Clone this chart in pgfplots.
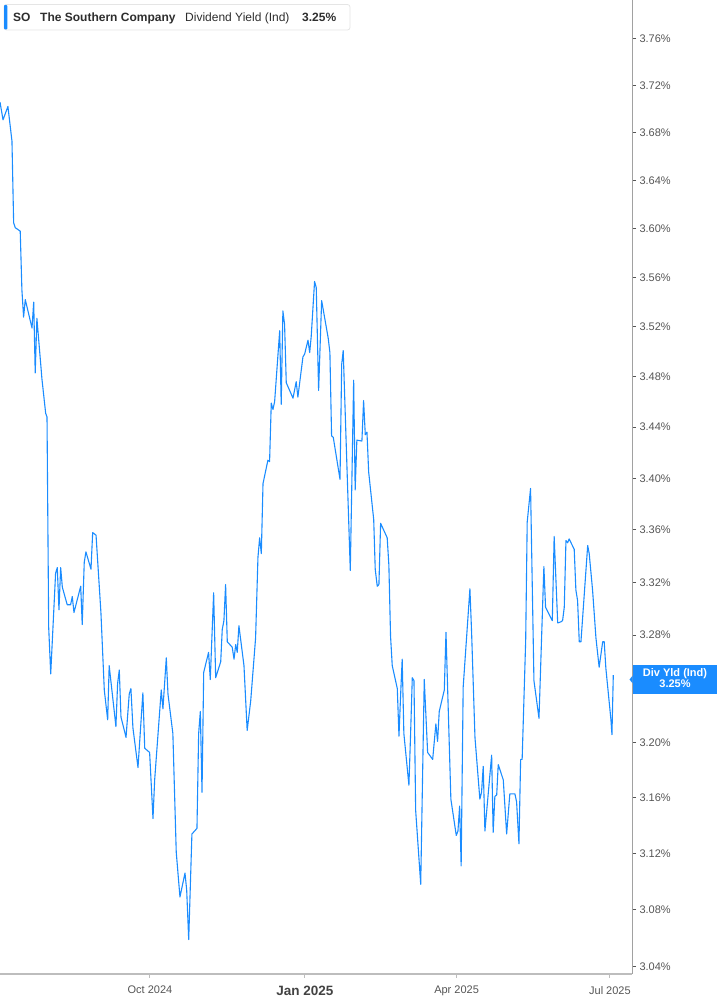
\documentclass[border=0pt]{standalone}
\usepackage{pgfplots}
\pgfplotsset{compat=1.18}
\usepackage{fontspec}
\setmainfont{Liberation Sans}

\definecolor{lineblue}{HTML}{1A8CFF}
\definecolor{axisgray}{HTML}{BDBDBD}
\definecolor{ticktext}{HTML}{555555}
\definecolor{darktext}{HTML}{2E2E2E}

\begin{document}
\begin{tikzpicture}[x=1pt,y=1pt]
\begin{axis}[
    at={(0pt,31pt)}, anchor=south west,
    scale only axis,
    width=632pt, height=974pt,
    xmin=-89, xmax=286.1,
    ymode=log,
    ymin=3.0351, ymax=3.7937,
    axis x line=bottom,
    axis y line=right,
    x axis line style={-, line width=2pt, draw=axisgray},
    y axis line style={-, line width=0.9pt, draw=axisgray!85!black},
    tick align=outside,
    major tick length=4pt,
    x tick style={draw=axisgray, line width=1pt},
    y tick style={draw=ticktext, line width=1pt},
    minor tick num=0,
    xtick={0,92,182,273},
    xticklabels={Oct 2024,{\bfseries\fontsize{13.5}{15}\selectfont\color{darktext!90}Jan 2025},Apr 2025,Jul 2025},
    ytick={3.04,3.08,3.12,3.16,3.20,3.24,3.28,3.32,3.36,3.40,3.44,3.48,3.52,3.56,3.60,3.64,3.68,3.72,3.76},
    % the 3.24% label sits behind the value tag, as in the source chart
    yticklabels={3.04\%,3.08\%,3.12\%,3.16\%,3.20\%,{},3.28\%,3.32\%,3.36\%,3.40\%,3.44\%,3.48\%,3.52\%,3.56\%,3.60\%,3.64\%,3.68\%,3.72\%,3.76\%},
    tick label style={font=\fontsize{11}{13}\selectfont, text=ticktext},
    xticklabel style={yshift=-5pt},
    yticklabel style={anchor=west, xshift=0pt},
    clip=false,
]
% dividend yield (%), x = days since 1 Oct 2024
\addplot[lineblue, line width=1.1pt, line join=round, no marks] coordinates {
(-89.0,3.706) (-87.2,3.691) (-84.3,3.702) (-81.9,3.673) (-80.9,3.605)
(-79.9,3.601) (-77.0,3.598) (-76.0,3.550) (-75.0,3.528) (-74.0,3.542)
(-70.0,3.519) (-69.0,3.540) (-68.1,3.483) (-67.1,3.527) (-64.1,3.478)
(-61.9,3.451) (-61.1,3.448) (-60.1,3.286) (-58.9,3.251) (-56.0,3.327)
(-55.0,3.331) (-54.0,3.299) (-53.0,3.331) (-52.0,3.316) (-49.1,3.303)
(-47.1,3.303) (-46.1,3.309) (-45.1,3.297) (-41.1,3.317) (-40.2,3.288)
(-39.0,3.335) (-38.0,3.343) (-35.0,3.330) (-34.0,3.358) (-32.0,3.356)
(-29.1,3.297) (-27.1,3.239) (-25.1,3.217) (-24.2,3.257) (-20.2,3.212)
(-19.2,3.244) (-18.2,3.254) (-17.2,3.219) (-14.2,3.204) (-12.3,3.236)
(-11.3,3.240) (-10.1,3.211) (-7.1,3.182) (-4.2,3.237) (-3.1,3.196)
(-0.2,3.193) (1.8,3.145) (2.8,3.173) (6.7,3.239) (7.7,3.225)
(9.7,3.263) (10.7,3.236) (13.6,3.207) (15.6,3.121) (17.8,3.089)
(20.8,3.106) (21.8,3.094) (23.0,3.059) (24.9,3.134) (27.9,3.138)
(28.9,3.207) (29.9,3.223) (30.9,3.164) (31.9,3.252) (34.8,3.267)
(35.8,3.247) (37.8,3.312) (39.0,3.248) (42.0,3.260) (42.9,3.284)
(43.9,3.291) (44.9,3.318) (45.9,3.275) (48.8,3.271) (49.9,3.262)
(50.9,3.273) (51.8,3.267) (52.8,3.287) (55.8,3.257) (57.7,3.209)
(59.8,3.231) (62.7,3.278) (64.1,3.339) (65.1,3.354) (66.1,3.342)
(67.1,3.396) (70.0,3.414) (71.0,3.413) (72.0,3.459) (73.0,3.454)
(74.0,3.460) (77.0,3.517) (77.9,3.458) (78.9,3.533) (79.9,3.522)
(80.9,3.475) (84.9,3.463) (86.8,3.476) (87.8,3.464) (90.8,3.496)
(91.8,3.498) (93.8,3.509) (94.8,3.499) (95.7,3.512) (97.7,3.557)
(98.7,3.552) (100.1,3.469) (101.9,3.541) (105.8,3.511) (106.8,3.499)
(107.8,3.433) (108.8,3.432) (112.8,3.399) (113.8,3.490) (114.7,3.501)
(118.9,3.329) (120.9,3.477) (121.8,3.391) (122.8,3.430) (125.8,3.429)
(126.8,3.461) (127.8,3.434) (128.8,3.436) (129.8,3.405) (132.8,3.368)
(133.7,3.330) (134.9,3.317) (135.9,3.318) (136.9,3.365) (140.8,3.354)
(141.8,3.333) (142.8,3.279) (143.8,3.257) (146.8,3.240) (147.8,3.205)
(148.8,3.236) (149.7,3.262) (150.7,3.207) (153.7,3.169) (154.7,3.207)
(155.7,3.248) (156.7,3.246) (157.7,3.151) (160.7,3.098) (162.8,3.247)
(164.8,3.193) (167.8,3.188) (169.7,3.214) (170.7,3.201) (171.7,3.223)
(174.7,3.239) (175.7,3.282) (178.6,3.159) (181.8,3.133) (182.8,3.136)
(183.8,3.154) (184.7,3.111) (185.9,3.241) (189.9,3.315) (190.9,3.282)
(192.9,3.204) (195.8,3.159) (196.8,3.164) (197.8,3.183) (198.8,3.136)
(202.8,3.191) (203.7,3.135) (204.7,3.161) (205.8,3.162) (206.7,3.184)
(209.7,3.173) (211.7,3.134) (213.6,3.163) (216.6,3.163) (217.6,3.157)
(219.0,3.127) (220.0,3.188) (220.9,3.188) (223.0,3.276) (223.9,3.366)
(225.9,3.392) (227.9,3.246) (230.9,3.218) (233.8,3.332) (234.8,3.301)
(238.8,3.291) (239.9,3.355) (242.0,3.289) (243.9,3.290) (244.9,3.291)
(245.9,3.301) (246.9,3.352) (247.9,3.350) (248.8,3.353) (251.8,3.345)
(252.8,3.314) (253.8,3.306) (254.8,3.275) (255.8,3.275) (259.8,3.348)
(260.7,3.342) (262.7,3.314) (264.7,3.278) (266.6,3.256) (268.7,3.275)
(269.6,3.275) (270.6,3.255) (273.6,3.217) (274.2,3.206) (275.0,3.250)
};
\end{axis}

% header box, top left
\draw[draw=black!10, fill=white, rounded corners=2.5pt, line width=0.8pt] (4,975) rectangle (350,1000.5);
\fill[lineblue, rounded corners=1pt] (4,975.5) rectangle (7.3,1000);
\node[anchor=base west, inner sep=0pt, text=darktext, font=\bfseries\fontsize{12}{14}\selectfont] at (13,983.5) {SO};
\node[anchor=base west, inner sep=0pt, text=darktext, font=\bfseries\fontsize{12}{14}\selectfont] at (40,983.5) {The Southern Company};
\node[anchor=base west, inner sep=0pt, text=darktext, font=\fontsize{12}{14}\selectfont] at (185,983.5) {Dividend Yield (Ind)};
\node[anchor=base west, inner sep=0pt, text=darktext, font=\bfseries\fontsize{12}{14}\selectfont] at (302,983.5) {3.25\%};

% last value tag on the right axis
\fill[lineblue] (632.7,311) rectangle (717,340);
\fill[lineblue] (632.7,321.5) -- (629.5,325.5) -- (632.7,329.5) -- cycle;
\node[anchor=base, inner sep=0pt, text=white, font=\bfseries\fontsize{11}{13}\selectfont] at (675,328.3) {Div Yld (Ind)};
\node[anchor=base, inner sep=0pt, text=white, font=\bfseries\fontsize{11}{13}\selectfont] at (675,317) {3.25\%};

\pgfresetboundingbox
\useasboundingbox (0,0) rectangle (717,1005);
\end{tikzpicture}
\end{document}
